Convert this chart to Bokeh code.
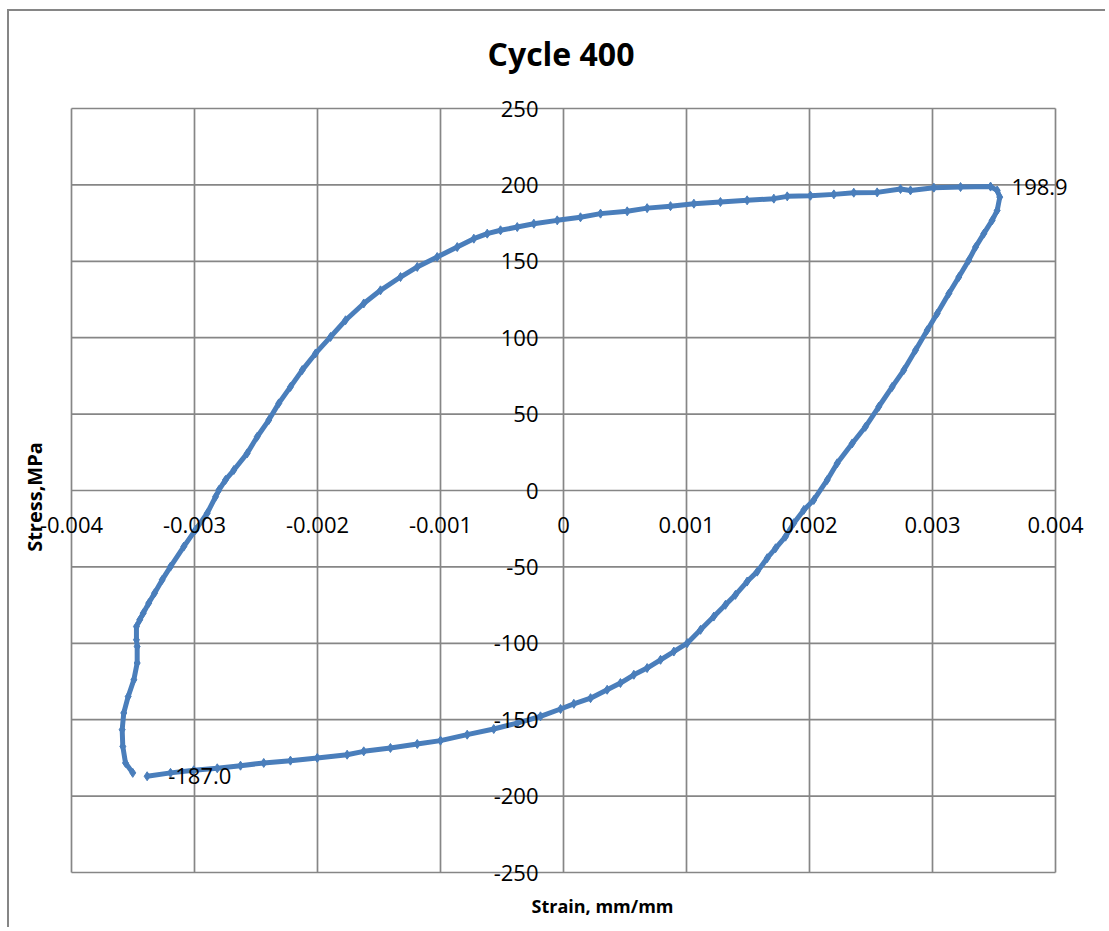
from bokeh.plotting import figure
from bokeh.models import Range1d, LabelSet, Label, ColumnDataSource
from bokeh.core.properties import value
from bokeh.embed import file_html
from bokeh.resources import INLINE

# ---- data (strain mm/mm, stress MPa), in path order ----
strain = [
    -0.003502, -0.003561, -0.003583, -0.003588, -0.003575, -0.003539, -0.003493,
    -0.003466, -0.003466, -0.003472, -0.003472, -0.003445, -0.003417, -0.003372,
    -0.003325, -0.003263, -0.003195, -0.003087, -0.002992, -0.002897, -0.002829,
    -0.002802, -0.002748, -0.002680, -0.002572, -0.002490, -0.002396, -0.002315,
    -0.002220, -0.002124, -0.002016, -0.001894, -0.001772, -0.001624, -0.001488,
    -0.001325, -0.001189, -0.001027, -0.000864, -0.000729, -0.000620, -0.000512,
    -0.000376, -0.000241, -0.000051,
    0.000138, 0.000301, 0.000518, 0.000680, 0.000870, 0.001060, 0.001276,
    0.001493, 0.001710, 0.001819, 0.002008, 0.002198, 0.002360, 0.002550,
    0.002740, 0.002821, 0.003011, 0.003228, 0.003472, 0.003526, 0.003547,
    0.003526, 0.003485, 0.003417, 0.003350, 0.003295, 0.003214, 0.003133,
    0.003038, 0.002957, 0.002862, 0.002767, 0.002672, 0.002563, 0.002455,
    0.002347, 0.002225, 0.002144, 0.002035, 0.001954, 0.001872, 0.001805,
    0.001724, 0.001656, 0.001575, 0.001493, 0.001398, 0.001317, 0.001222,
    0.001114, 0.001006, 0.000897, 0.000789, 0.000680, 0.000572, 0.000463,
    0.000355, 0.000220, 0.000084, -0.000024, -0.000187,
    -0.000376, -0.000567, -0.000783, -0.001000, -0.001189, -0.001407,
    -0.001624, -0.001759, -0.002002, -0.002220, -0.002437, -0.002626,
    -0.002815, -0.003006, -0.003195, -0.003385,
]
stress = [
    -184.8, -178.3, -167.5, -156.5, -145.6, -134.8, -123.9,
    -112.9, -102.1, -97.7, -89.0, -84.6, -80.3, -73.7,
    -67.2, -58.5, -49.8, -36.7, -25.8, -14.9, -4.1,
    0.3, 6.9, 13.4, 24.3, 35.2, 46.1, 57.0,
    67.8, 78.8, 89.7, 100.5, 111.4, 122.4, 131.0,
    139.7, 146.3, 152.8, 159.3, 164.8, 168.1, 170.3,
    172.4, 174.6, 176.8,
    178.8, 181.2, 182.7, 184.8, 186.1, 187.7, 188.8,
    189.9, 191.0, 192.5, 192.9, 193.8, 194.9, 195.1,
    197.3, 196.4, 198.2, 198.6, 198.9, 196.4, 192.0,
    183.3, 176.8, 168.1, 159.3, 150.7, 139.7, 128.9,
    115.8, 104.9, 91.8, 78.8, 67.8, 54.8, 41.7,
    30.8, 17.8, 6.9, -6.2, -12.7, -21.4, -30.2,
    -37.8, -44.3, -53.1, -59.6, -68.3, -74.8, -82.5,
    -91.2, -99.9, -105.4, -110.8, -116.2, -120.6, -126.0,
    -130.4, -135.9, -139.6, -143.0, -147.8,
    -152.2, -156.1, -159.8, -163.7, -165.9, -168.5,
    -170.7, -172.9, -175.0, -176.8, -178.3, -180.1,
    -181.8, -183.1, -184.8, -187.0,
]

x_ticks = [-0.004, -0.003, -0.002, -0.001, 0.0, 0.001, 0.002, 0.003, 0.004]
x_tick_labels = ["-0.004", "-0.003", "-0.002", "-0.001", "0", "0.001", "0.002", "0.003", "0.004"]
y_ticks = [-250, -200, -150, -100, -50, 0, 50, 100, 150, 200, 250]
y_tick_labels = [str(v) for v in y_ticks]

chart_title = "Cycle 400"
x_title = "Strain, mm/mm"
y_title = "Stress,MPa"

# ---- styling / layout ----
BLUE = "#4a7ebb"
GRID = "#868686"
FONT = "Open Sans"

W, H = 1098, 918                 # canvas size (px)
PA_L, PA_R = 62, 1046            # plot-area left / right inside canvas (px)
PA_T, PA_B = 97, 861             # plot-area top / bottom inside canvas (px)
xmin, xmax = x_ticks[0], x_ticks[-1]
ymin, ymax = y_ticks[0], y_ticks[-1]
xs = (xmax - xmin) / (PA_R - PA_L)
ys = (ymax - ymin) / (PA_B - PA_T)

p = figure(
    width=W, height=H,
    min_border=0, min_border_left=0, min_border_right=0, min_border_top=0, min_border_bottom=0,
    x_range=Range1d(xmin - PA_L * xs, xmax + (W - PA_R) * xs),
    y_range=Range1d(ymin - (H - PA_B) * ys, ymax + PA_T * ys),
    x_axis_type=None, y_axis_type=None,
    output_backend="svg", toolbar_location=None,
)
p.styles = {"margin-left": "7px", "margin-top": "9px",
            "border-left": "2px solid #868686", "border-top": "2px solid #868686"}
p.outline_line_color = None
p.background_fill_color = "white"
p.border_fill_color = "white"
p.xgrid.visible = False
p.ygrid.visible = False

# gridlines (and plot-area border, which are the outermost gridlines)
p.segment(x0=x_ticks, y0=[ymin] * len(x_ticks), x1=x_ticks, y1=[ymax] * len(x_ticks),
          line_color=GRID, line_width=1.7)
p.segment(x0=[xmin] * len(y_ticks), y0=y_ticks, x1=[xmax] * len(y_ticks), y1=y_ticks,
          line_color=GRID, line_width=1.7)

# y tick labels (left of the vertical axis at x = 0)
ysrc = ColumnDataSource(dict(x=[0.0] * len(y_ticks), y=y_ticks, t=y_tick_labels))
p.add_layout(LabelSet(x="x", y="y", text="t", source=ysrc, x_offset=-25, y_offset=0,
                      text_align="right", text_baseline="middle",
                      text_font=value(FONT), text_font_size=value("22px"),
                      text_color="black"))

# x tick labels (below the horizontal axis at y = 0)
xsrc = ColumnDataSource(dict(x=x_ticks, y=[0.0] * len(x_ticks), t=x_tick_labels))
p.add_layout(LabelSet(x="x", y="y", text="t", source=xsrc, x_offset=0, y_offset=-34,
                      text_align="center", text_baseline="middle",
                      text_font=value(FONT), text_font_size=value("22px"),
                      text_color="black"))

# series
src = ColumnDataSource(dict(x=strain, y=stress))
p.line("x", "y", source=src, line_color=BLUE, line_width=5)
p.scatter("x", "y", source=src, marker="diamond", size=9, color=BLUE)

# data labels at max and min
imax = stress.index(max(stress))
imin = stress.index(min(stress))
dsrc = ColumnDataSource(dict(
    x=[strain[imax], strain[imin]], y=[stress[imax], stress[imin]],
    t=[f"{stress[imax]:.1f}", f"{stress[imin]:.1f}"]))
p.add_layout(LabelSet(x="x", y="y", text="t", source=dsrc, x_offset=21, y_offset=0,
                      text_align="left", text_baseline="middle",
                      text_font=value(FONT), text_font_size=value("22px"),
                      text_color="black"))

# titles
p.add_layout(Label(x=0.0, y=ymax, x_offset=-2.5, y_offset=55, text=chart_title,
                   text_align="center", text_baseline="middle", text_font=FONT,
                   text_font_size="32px", text_font_style="bold", text_color="black"))
p.add_layout(Label(x=0.0, y=ymin, x_offset=39, y_offset=-33, text=x_title,
                   text_align="center", text_baseline="middle", text_font=FONT,
                   text_font_size="18px", text_font_style="bold", text_color="black"))
p.add_layout(Label(x=xmin, y=0.0, x_offset=-37, y_offset=-6.5, text=y_title,
                   angle=1.5707963, text_align="center", text_baseline="middle",
                   text_font=FONT, text_font_size="20px", text_font_style="bold",
                   text_color="black"))

open("out.html", "w").write(file_html(p, INLINE))
